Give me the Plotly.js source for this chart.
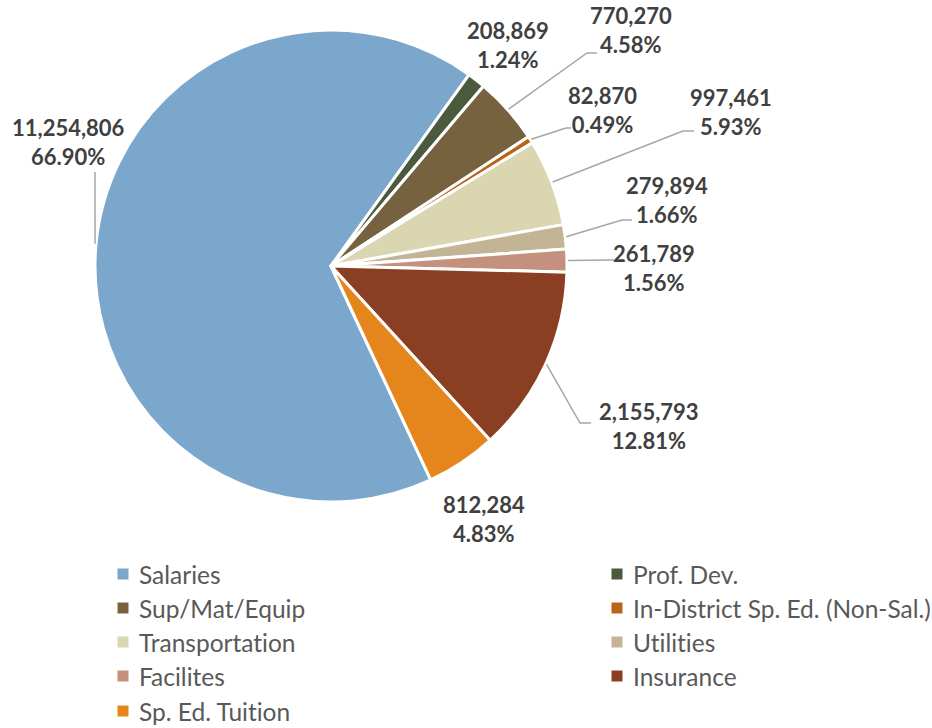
<!DOCTYPE html>
<html>
<head>
<meta charset="utf-8">
<script src="https://cdn.plot.ly/plotly-3.0.1.min.js"></script>
<style>
html,body{margin:0;padding:0;background:#fff;}
#chart{width:932px;height:728px;}
text{font-variant-ligatures:none !important;font-feature-settings:"liga" 0, "clig" 0 !important;}
</style>
</head>
<body>
<div id="chart"></div>
<script>
// ---- data ----
var categories = ["Salaries", "Prof. Dev.", "Sup/Mat/Equip", "In-District Sp. Ed. (Non-Sal.)",
  "Transportation", "Utilities", "Facilites", "Insurance", "Sp. Ed. Tuition"];
var values = [11254806, 208869, 770270, 82870, 997461, 279894, 261789, 2155793, 812284];
var colors = ["#7CA7CC", "#4B5A3D", "#76623F", "#B8651A", "#D9D6B1", "#C4B496", "#C3917D", "#8B3F22", "#E5861C"];

// ---- layout constants (pixels) ----
var W = 932, H = 728;
var CX = 331, CY = 266, R = 236;
var ROT = 155;
// label block centres and leader line elbows (pixels), per slice
var labelPos = [[68, 142], [508, 45], [631, 30], [602, 110], [731, 112], [667, 200], [654, 268], [649, 426], [484, 519]];
var elbows = [[[95, 172]], null, [[587, 53], [597, 53]], [[566, 128], [571, 128]], [[683, 131], [694, 131]],
  [[622, 220], [632, 220]], [[608, 260], [614, 260]], [[580, 423], [591, 423]], null];

function px(x) { return x / W; }
function py(y) { return 1 - y / H; }

var total = values.reduce(function (a, b) { return a + b; }, 0);

var trace = {
  type: "pie",
  labels: categories,
  values: values,
  sort: false,
  direction: "clockwise",
  rotation: ROT,
  marker: { colors: colors, line: { color: "#ffffff", width: 3 } },
  textinfo: "none",
  hoverinfo: "label+value+percent",
  showlegend: false,
  domain: { x: [px(CX - R), px(CX + R)], y: [py(CY + R), py(CY - R)] }
};

var annotations = [];
var shapes = [];
var cum = 0;
for (var i = 0; i < values.length; i++) {
  var mid = (cum + values[i] / 2) / total;
  cum += values[i];
  var ang = (ROT + mid * 360) * Math.PI / 180;
  var ax = CX + (R + 1) * Math.sin(ang);
  var ay = CY - (R + 1) * Math.cos(ang);
  var pct = (values[i] / total * 100).toFixed(2) + "%";
  var txt = values[i].toLocaleString("en-US") + "<br>" + pct;
  annotations.push({
    xref: "paper", yref: "paper",
    x: px(labelPos[i][0]), y: py(labelPos[i][1]),
    xanchor: "center", yanchor: "middle",
    text: txt, showarrow: false, align: "center",
    font: { family: "Lato, 'Open Sans', sans-serif", size: 22, color: "#404040", weight: "bold" }
  });
  if (elbows[i]) {
    var d = "M" + px(ax) + "," + py(ay);
    elbows[i].forEach(function (p) { d += " L" + px(p[0]) + "," + py(p[1]); });
    shapes.push({
      type: "path", xref: "paper", yref: "paper", path: d,
      line: { color: "#A6A6A6", width: 1.5 }
    });
  }
}

// ---- custom legend (two columns) ----
var legCols = [123, 617];
var legRows = [574, 608, 642, 676, 711];
for (var j = 0; j < categories.length; j++) {
  var c = j % 2, r = Math.floor(j / 2);
  var lx = legCols[c], ly = legRows[r];
  shapes.push({
    type: "rect", xref: "paper", yref: "paper",
    x0: px(lx - 5.5), x1: px(lx + 5.5), y0: py(ly + 5.5), y1: py(ly - 5.5),
    fillcolor: colors[j], line: { width: 0 }
  });
  annotations.push({
    xref: "paper", yref: "paper",
    x: px(lx + 14), y: py(ly),
    xanchor: "left", yanchor: "middle",
    text: categories[j], showarrow: false,
    font: { family: "Lato, 'Open Sans', sans-serif", size: 24.5, color: "#595959" }
  });
}

var layout = {
  width: W, height: H,
  margin: { l: 0, r: 0, t: 0, b: 0 },
  paper_bgcolor: "#ffffff",
  showlegend: false,
  annotations: annotations,
  shapes: shapes
};

Plotly.newPlot("chart", [trace], layout, { displayModeBar: false, staticPlot: true });
</script>
</body>
</html>
